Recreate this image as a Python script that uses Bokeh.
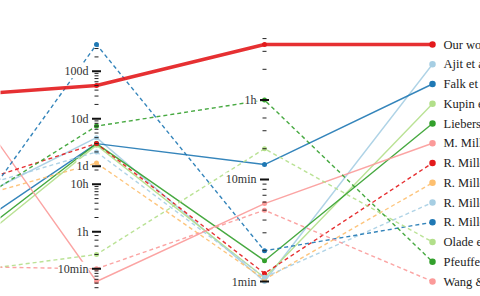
import math
from bokeh.plotting import figure
from bokeh.models import Range1d
from bokeh.embed import file_html
from bokeh.resources import INLINE
from bokeh.core.properties import value

# ---------------- data ----------------
works = ["Our work", "Ajit et al.", "Falk et al.", "Kupin et al.", "Liebers et al.",
         "M. Miller et al.", "R. Miller et al.", "R. Miller et al.", "R. Miller et al.",
         "R. Miller et al.", "Olade et al.", "Pfeuffer et al.", "Wang &"]
# first axis (outside the visible crop), normalised score 0..1
axis0_score = [0.776, 0.251, 0.101, 0.0, 0.036, 1.0, 0.354, 0.30, 0.338, 0.013, 0.021, 0.211, 0.065]
# second axis: time in minutes
axis1_minutes = [72000, 5760, 4320, 4000, 4320, 5.4, 4320, 1680, 2880, 525600, 20, 10080, 10]
# third axis: time in minutes
axis2_minutes = [210, 1, 14, 1.09, 1.6, 5.8, 1.2, 1.05, 1.1, 2, 20, 60, 5]

axis1_major_ticks = [10, 60, 600, 1440, 14400, 144000]
axis1_major_labels = ["10min", "1h", "10h", "1d", "10d", "100d"]
axis1_minor_ticks = [4, 5, 6, 7, 8, 9, 20, 30, 40, 50,
                     120, 180, 240, 300, 360, 420, 480, 540, 1200,
                     2880, 4320, 5760, 7200, 8640, 10080, 11520, 12960,
                     28800, 43200, 57600, 72000, 86400, 100800, 115200, 129600,
                     288000, 432000]
axis2_major_ticks = [1, 10, 60]
axis2_major_labels = ["1min", "10min", "1h"]
axis2_minor_ticks = [2, 3, 4, 5, 6, 7, 8, 9, 20, 30, 40, 50, 120, 180, 240]

# ---------------- styles ----------------
colors = ["#e31a1c", "#a6cee3", "#1f78b4", "#b2df8a", "#33a02c", "#fb9a99",
          "#e31a1c", "#fdbf6f", "#a6cee3", "#1f78b4", "#b2df8a", "#33a02c", "#fb9a99"]
dashes = ["solid"] * 6 + ["4 3"] * 7
widths = [3.4] + [1.4] * 12

TOP, BOTTOM = 44, 281
FONT = value("Liberation Serif")


def log_scale(vals):
    lo, hi = math.log10(min(vals)), math.log10(max(vals))
    return lambda v: BOTTOM - (math.log10(v) - lo) / (hi - lo) * (BOTTOM - TOP)


def lin_scale(vals):
    lo, hi = min(vals), max(vals)
    return lambda v: BOTTOM - (v - lo) / (hi - lo) * (BOTTOM - TOP)


s0 = lin_scale(axis0_score)
s1 = log_scale(axis1_minutes)
s2 = log_scale(axis2_minutes)
n = len(works)
s3 = lambda i: TOP + i * (BOTTOM - TOP) / (n - 1)

p = figure(width=480, height=296, output_backend="svg", toolbar_location=None,
           x_range=Range1d(1 - 96 / 168, 1 - 96 / 168 + 480 / 168),
           y_range=Range1d(296, 0), x_axis_type=None, y_axis_type=None,
           min_border=0)
p.grid.visible = False
p.outline_line_color = None
p.background_fill_color = "white"

order = list(range(1, n)) + [0]
for i in order:
    ys = [s0(axis0_score[i]), s1(axis1_minutes[i]), s2(axis2_minutes[i]), s3(i)]
    p.line([0, 1, 2, 3], ys, line_color=colors[i], line_width=widths[i],
           line_dash=dashes[i], line_alpha=0.9)
    p.scatter([1, 2], ys[1:3], size=5, fill_color=colors[i], line_color=None)
    p.scatter([3], [ys[3]], size=6.5, fill_color=colors[i], line_color=None)

# axis ticks
for ax, scale, majors, labels, minors in [
        (1, s1, axis1_major_ticks, axis1_major_labels, axis1_minor_ticks),
        (2, s2, axis2_major_ticks, axis2_major_labels, axis2_minor_ticks)]:
    p.scatter([ax] * len(minors), [scale(v) for v in minors], marker="dash",
              size=4, line_color="#222", line_width=1)
    my = [scale(v) for v in majors]
    p.scatter([ax] * len(majors), my, marker="dash", size=9,
              line_color="#111", line_width=2)
    p.text([ax] * len(majors), my, text=labels, x_offset=-8,
           text_align="right", text_baseline="middle", text_font=FONT,
           text_font_size="12px", text_color="#333",
           background_fill_color="white")

# labels of the last column
p.text([3] * n, [s3(i) for i in range(n)], text=works, x_offset=11,
       text_align="left", text_baseline="middle", text_font=FONT,
       text_font_size="12.5px", text_color="#222")

open("out.html", "w").write(file_html(p, INLINE))
